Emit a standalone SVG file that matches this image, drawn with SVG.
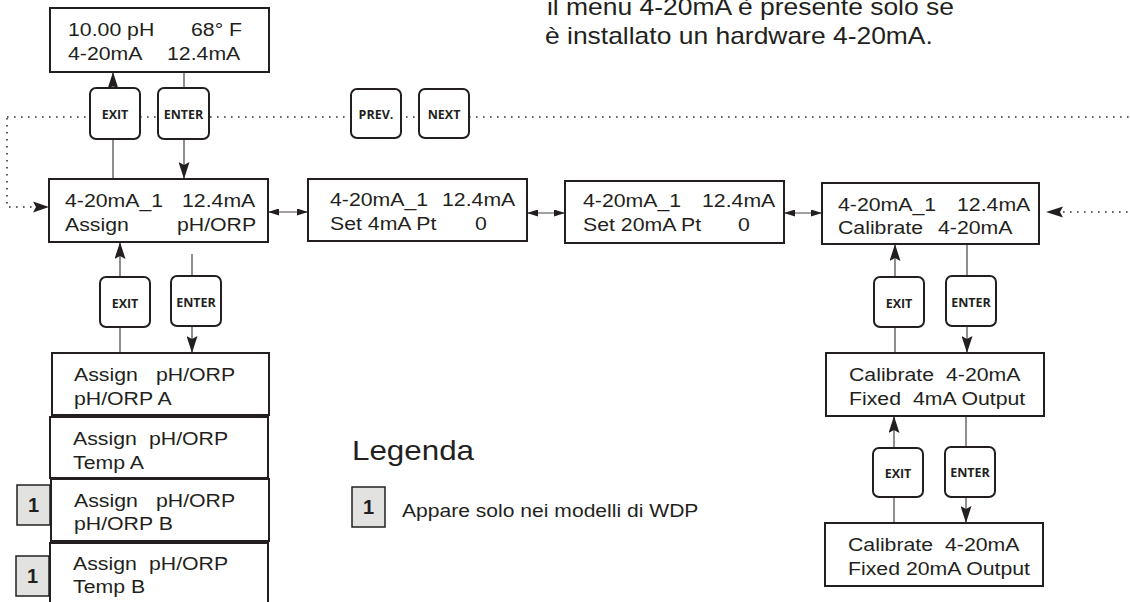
<svg xmlns="http://www.w3.org/2000/svg" width="1130" height="602" viewBox="0 0 1130 602">
<style>
.bg{fill:#ffffff}
.box{fill:#ffffff;stroke:#231f20;stroke-width:2}
.btn{fill:#ffffff;stroke:#231f20;stroke-width:2}
.t{font-family:"Liberation Sans",Arial,sans-serif;font-size:18.5px;fill:#231f20}
.bt{font-family:"Open Sans","Liberation Sans",sans-serif;font-weight:700;font-size:12.5px;fill:#231f20;text-anchor:middle}
.note{font-family:"Liberation Sans",Arial,sans-serif;font-size:23px;fill:#231f20}
.leg{font-family:"Liberation Sans",Arial,sans-serif;font-size:28px;fill:#231f20}
.legt{font-family:"Liberation Sans",Arial,sans-serif;font-size:18.5px;fill:#231f20}
.badge{fill:#e2e2e0;stroke:#231f20;stroke-width:1.5}
.bn{font-family:"Liberation Sans",Arial,sans-serif;font-weight:700;font-size:20px;fill:#231f20;text-anchor:middle}
.ln{fill:none;stroke:#444;stroke-width:1.2}
.dot{fill:none;stroke:#333;stroke-width:1.6;stroke-dasharray:1.6 5.4}
.ah{fill:#231f20}
</style>
<defs>
<marker id="big" markerUnits="userSpaceOnUse" markerWidth="17" markerHeight="11" refX="17" refY="5.5" orient="auto"><path d="M0,0 L17,5.5 L0,11 L3,5.5 z" fill="#231f20"/></marker>
<marker id="sm" markerUnits="userSpaceOnUse" markerWidth="11" markerHeight="7" refX="11" refY="3.5" orient="auto-start-reverse"><path d="M0,0 L11,3.5 L0,7 z" fill="#231f20"/></marker>
</defs>
<rect class="bg" x="0" y="0" width="1130" height="602"/>

<g id="connectors">
<path class="dot" d="M7,117 H1130"/>
<path class="dot" d="M7,118 V207 H34"/>
<path class="ah" d="M33,201.5 L49,207 L33,212.5 L36,207 z"/>
<path class="dot" d="M1063,212 H1130"/>
<path class="ah" d="M1063,206.5 L1046,212 L1063,217.5 L1060,212 z"/>
<path class="ln" d="M113,88 V72" marker-end="url(#big)"/>
<path class="ln" d="M113,139 V179"/>
<path class="ln" d="M184,72 V88"/>
<path class="ln" d="M184,139 V179" marker-end="url(#big)"/>
<path class="ln" d="M268,212 H308" marker-start="url(#sm)" marker-end="url(#sm)"/>
<path class="ln" d="M527,213 H565" marker-start="url(#sm)" marker-end="url(#sm)"/>
<path class="ln" d="M784,213 H822" marker-start="url(#sm)" marker-end="url(#sm)"/>
<path class="ln" d="M120,277 V242" marker-end="url(#big)"/>
<path class="ln" d="M120,327 V353"/>
<path class="ln" d="M192,254 V276"/>
<path class="ln" d="M192,326 V353" marker-end="url(#big)"/>
<path class="ln" d="M895,277 V244" marker-end="url(#big)"/>
<path class="ln" d="M895,327 V353"/>
<path class="ln" d="M967,244 V276"/>
<path class="ln" d="M967,326 V353" marker-end="url(#big)"/>
<path class="ln" d="M894,448 V416" marker-end="url(#big)"/>
<path class="ln" d="M894,497 V523"/>
<path class="ln" d="M966,416 V447"/>
<path class="ln" d="M966,497 V523" marker-end="url(#big)"/>
</g>

<g id="note">
<text class="note" transform="translate(547 15) scale(1.15 1)">il menu 4-20mA è presente solo se</text>
<text class="note" transform="translate(545 44) scale(1.15 1)">è installato un hardware 4-20mA.</text>
</g>

<g id="main-display">
<rect class="box" x="50" y="8" width="219" height="64"/>
<text class="t" transform="translate(68 36) scale(1.15 1)">10.00 pH</text>
<text class="t" transform="translate(191 36) scale(1.15 1)">68° F</text>
<text class="t" transform="translate(68 60) scale(1.15 1)">4-20mA</text>
<text class="t" transform="translate(167 60) scale(1.15 1)">12.4mA</text>
</g>

<g id="btn-exit-top"><rect class="btn" x="90" y="88" width="50" height="51" rx="6"/><text class="bt" x="115" y="119">EXIT</text></g>
<g id="btn-enter-top"><rect class="btn" x="158" y="88" width="51" height="51" rx="6"/><text class="bt" x="183.5" y="119">ENTER</text></g>
<g id="btn-prev"><rect class="btn" x="351" y="89" width="50" height="49" rx="6"/><text class="bt" x="376" y="119">PREV.</text></g>
<g id="btn-next"><rect class="btn" x="419" y="89" width="50" height="49" rx="6"/><text class="bt" x="444" y="119">NEXT</text></g>

<g id="assign-menu">
<rect class="box" x="49" y="179" width="219" height="63"/>
<text class="t" transform="translate(65 207) scale(1.15 1)">4-20mA_1</text>
<text class="t" transform="translate(182 207) scale(1.15 1)">12.4mA</text>
<text class="t" transform="translate(65 231) scale(1.15 1)">Assign</text>
<text class="t" transform="translate(177 231) scale(1.15 1)">pH/ORP</text>
</g>

<g id="set-4ma">
<rect class="box" x="308" y="179" width="219" height="62"/>
<text class="t" transform="translate(330 206) scale(1.15 1)">4-20mA_1</text>
<text class="t" transform="translate(442 206) scale(1.15 1)">12.4mA</text>
<text class="t" transform="translate(330 230) scale(1.15 1)">Set 4mA Pt</text>
<text class="t" transform="translate(475 230) scale(1.15 1)">0</text>
</g>

<g id="set-20ma">
<rect class="box" x="565" y="181" width="219" height="62"/>
<text class="t" transform="translate(583 207) scale(1.15 1)">4-20mA_1</text>
<text class="t" transform="translate(702 207) scale(1.15 1)">12.4mA</text>
<text class="t" transform="translate(583 231) scale(1.15 1)">Set 20mA Pt</text>
<text class="t" transform="translate(738 231) scale(1.15 1)">0</text>
</g>

<g id="calibrate-menu">
<rect class="box" x="822" y="183" width="217" height="61"/>
<text class="t" transform="translate(838 211) scale(1.15 1)">4-20mA_1</text>
<text class="t" transform="translate(957 211) scale(1.15 1)">12.4mA</text>
<text class="t" transform="translate(838 234) scale(1.15 1)">Calibrate</text>
<text class="t" transform="translate(938 234) scale(1.15 1)">4-20mA</text>
</g>

<g id="btn-exit-left"><rect class="btn" x="100" y="277" width="50" height="50" rx="6"/><text class="bt" x="125" y="308">EXIT</text></g>
<g id="btn-enter-left"><rect class="btn" x="171" y="276" width="50" height="50" rx="6"/><text class="bt" x="196" y="307">ENTER</text></g>

<g id="assign-phorp-a">
<rect class="box" x="52" y="353" width="217" height="62"/>
<text class="t" transform="translate(74 381) scale(1.15 1)">Assign</text>
<text class="t" transform="translate(156 381) scale(1.15 1)">pH/ORP</text>
<text class="t" transform="translate(74 405) scale(1.15 1)">pH/ORP A</text>
</g>
<g id="assign-temp-a">
<rect class="box" x="50" y="417" width="218" height="61"/>
<text class="t" transform="translate(73 445) scale(1.15 1)">Assign</text>
<text class="t" transform="translate(149 445) scale(1.15 1)">pH/ORP</text>
<text class="t" transform="translate(73 469) scale(1.15 1)">Temp A</text>
</g>
<g id="assign-phorp-b">
<rect class="box" x="51" y="479" width="218" height="62"/>
<text class="t" transform="translate(74 507) scale(1.15 1)">Assign</text>
<text class="t" transform="translate(156 507) scale(1.15 1)">pH/ORP</text>
<text class="t" transform="translate(74 530) scale(1.15 1)">pH/ORP B</text>
<rect class="badge" x="17" y="485" width="33" height="40"/>
<text class="bn" x="33.5" y="512">1</text>
</g>
<g id="assign-temp-b">
<rect class="box" x="50" y="543" width="218" height="75"/>
<text class="t" transform="translate(73 570) scale(1.15 1)">Assign</text>
<text class="t" transform="translate(149 570) scale(1.15 1)">pH/ORP</text>
<text class="t" transform="translate(73 593) scale(1.15 1)">Temp B</text>
<rect class="badge" x="16" y="556" width="33" height="40"/>
<text class="bn" x="32.5" y="583">1</text>
</g>

<g id="legend">
<text class="leg" transform="translate(352 460) scale(1.12 1)">Legenda</text>
<rect class="badge" x="352" y="487" width="33" height="40"/>
<text class="bn" x="368.5" y="514">1</text>
<text class="legt" transform="translate(402 517) scale(1.14 1)">Appare solo nei modelli di WDP</text>
</g>

<g id="btn-exit-r1"><rect class="btn" x="874" y="277" width="50" height="50" rx="6"/><text class="bt" x="899" y="308">EXIT</text></g>
<g id="btn-enter-r1"><rect class="btn" x="946" y="276" width="50" height="50" rx="6"/><text class="bt" x="971" y="307">ENTER</text></g>

<g id="fixed-4ma">
<rect class="box" x="826" y="353" width="218" height="63"/>
<text class="t" transform="translate(849 381) scale(1.15 1)">Calibrate</text>
<text class="t" transform="translate(946 381) scale(1.15 1)">4-20mA</text>
<text class="t" transform="translate(849 405) scale(1.15 1)">Fixed</text>
<text class="t" transform="translate(913 405) scale(1.15 1)">4mA Output</text>
</g>

<g id="btn-exit-r2"><rect class="btn" x="873" y="448" width="50" height="49" rx="6"/><text class="bt" x="898" y="478">EXIT</text></g>
<g id="btn-enter-r2"><rect class="btn" x="945" y="447" width="50" height="50" rx="6"/><text class="bt" x="970" y="477">ENTER</text></g>

<g id="fixed-20ma">
<rect class="box" x="825" y="523" width="218" height="63"/>
<text class="t" transform="translate(848 551) scale(1.15 1)">Calibrate</text>
<text class="t" transform="translate(945 551) scale(1.15 1)">4-20mA</text>
<text class="t" transform="translate(848 575) scale(1.15 1)">Fixed 20mA Output</text>
</g>
</svg>
